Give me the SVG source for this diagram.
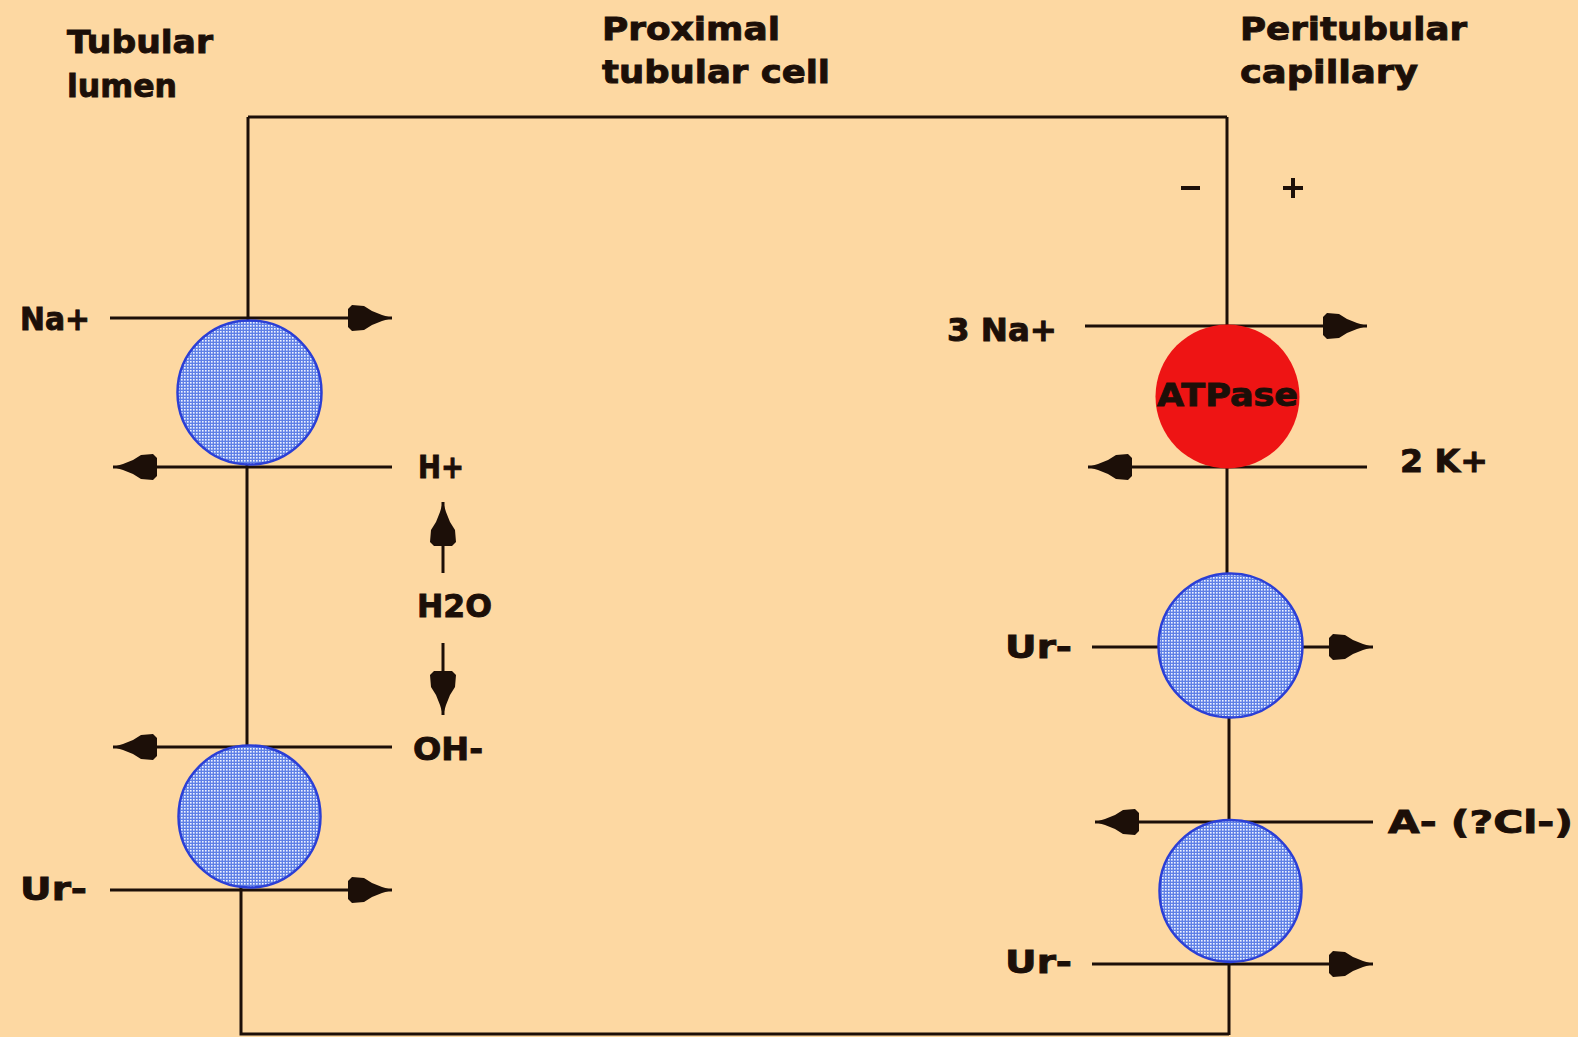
<svg xmlns="http://www.w3.org/2000/svg" width="1578" height="1037" viewBox="0 0 1578 1037">
  <style>
    .lbl { font-family: "DejaVu Sans", "Liberation Sans", sans-serif; font-weight: bold; font-size: 32px; fill: #1c0f08; stroke: #1c0f08; stroke-width: 0.9; }
    .mem { fill: none; stroke: #1c0f08; stroke-width: 3; }
    .flow { fill: none; stroke: #1c0f08; stroke-width: 3; marker-end: url(#dart); }
    .carrier { fill: url(#dots); stroke: #2b3fd6; stroke-width: 2.5; }
    .pump { fill: #ee1414; }
  </style>
  <defs>
    <!-- stippled fill for the carrier proteins -->
    <pattern id="dots" width="3" height="3" patternUnits="userSpaceOnUse">
      <rect width="3" height="3" fill="#5f80e6"/>
      <rect x="1" y="1" width="1.6" height="1.6" fill="#eef3ff"/>
    </pattern>
    <!-- blunt dart arrowhead -->
    <marker id="dart" viewBox="-46 -15 48 30" refX="0" refY="0" markerWidth="48" markerHeight="30" markerUnits="userSpaceOnUse" orient="auto">
      <path d="M0,0 L-10,-3 L-20,-7 L-28,-12 L-40,-13 L-44,-9 L-44,9 L-40,13 L-28,12 L-20,7 L-10,3 Z" fill="#1c0f08"/>
    </marker>
  </defs>

  <rect width="1578" height="1037" fill="#fdd8a2"/>

  <!-- column headings -->
  <g id="heading-lumen">
    <text class="lbl" x="67" y="53" textLength="146" lengthAdjust="spacingAndGlyphs">Tubular</text>
    <text class="lbl" x="67" y="97" textLength="110" lengthAdjust="spacingAndGlyphs">lumen</text>
  </g>
  <g id="heading-cell">
    <text class="lbl" x="602" y="40" textLength="178" lengthAdjust="spacingAndGlyphs">Proximal</text>
    <text class="lbl" x="602" y="83" textLength="228" lengthAdjust="spacingAndGlyphs">tubular cell</text>
  </g>
  <g id="heading-capillary">
    <text class="lbl" x="1240" y="40" textLength="227" lengthAdjust="spacingAndGlyphs">Peritubular</text>
    <text class="lbl" x="1240" y="83" textLength="178" lengthAdjust="spacingAndGlyphs">capillary</text>
  </g>

  <!-- cell outline: apical and basolateral membranes -->
  <g id="cell">
    <path class="mem" d="M248,117 H1227"/>
    <path class="mem" d="M248,117 V322"/>
    <path class="mem" d="M247,463 V748"/>
    <path class="mem" d="M241,886 V1034 H1229"/>
    <path class="mem" d="M1227,117 V328"/>
    <path class="mem" d="M1227,466 V575"/>
    <path class="mem" d="M1229,716 V822"/>
    <path class="mem" d="M1229,960 V1035"/>
  </g>

  <!-- membrane potential signs -->
  <g id="potential">
    <rect x="1181" y="186" width="19" height="4" fill="#1c0f08"/>
    <rect x="1283" y="186" width="20" height="4" fill="#1c0f08"/>
    <rect x="1291" y="178" width="4" height="20" fill="#1c0f08"/>
  </g>

  <!-- ion flows -->
  <g id="connectors">
    <path class="flow" d="M110,318 H392"/>
    <path class="flow" d="M392,467 H113"/>
    <path class="flow" d="M443,573 V502"/>
    <path class="flow" d="M443,643 V715"/>
    <path class="flow" d="M392,747 H113"/>
    <path class="flow" d="M110,890 H392"/>
    <path class="flow" d="M1085,326 H1367"/>
    <path class="flow" d="M1367,467 H1088"/>
    <path class="flow" d="M1092,647 H1373"/>
    <path class="flow" d="M1373,822 H1095"/>
    <path class="flow" d="M1092,964 H1373"/>
  </g>

  <!-- apical Na+/H+ exchanger -->
  <g id="na-h-exchanger">
    <circle class="carrier" cx="249.5" cy="392.5" r="72"/>
    <text class="lbl" x="20" y="330" textLength="70" lengthAdjust="spacingAndGlyphs">Na+</text>
    <text class="lbl" x="418" y="478" textLength="46" lengthAdjust="spacingAndGlyphs">H+</text>
  </g>

  <!-- water dissociation inside the cell -->
  <g id="water">
    <text class="lbl" x="417" y="617" textLength="75" lengthAdjust="spacingAndGlyphs">H2O</text>
  </g>

  <!-- apical urate/OH- exchanger -->
  <g id="urate-oh-exchanger">
    <circle class="carrier" cx="249.5" cy="816.5" r="71"/>
    <text class="lbl" x="413" y="760" textLength="70" lengthAdjust="spacingAndGlyphs">OH-</text>
    <text class="lbl" x="20" y="900" textLength="67" lengthAdjust="spacingAndGlyphs">Ur-</text>
  </g>

  <!-- basolateral Na/K pump -->
  <g id="na-k-atpase">
    <circle class="pump" cx="1227.5" cy="396.5" r="72"/>
    <text class="lbl" x="1157" y="406" textLength="141" lengthAdjust="spacingAndGlyphs">ATPase</text>
    <text class="lbl" x="947" y="341" textLength="110" lengthAdjust="spacingAndGlyphs">3 Na+</text>
    <text class="lbl" x="1400" y="472" textLength="88" lengthAdjust="spacingAndGlyphs">2 K+</text>
  </g>

  <!-- basolateral urate uniporter -->
  <g id="urate-uniporter">
    <circle class="carrier" cx="1230.5" cy="645.5" r="72"/>
    <text class="lbl" x="1005" y="658" textLength="67" lengthAdjust="spacingAndGlyphs">Ur-</text>
  </g>

  <!-- basolateral urate/anion exchanger -->
  <g id="urate-anion-exchanger">
    <circle class="carrier" cx="1230.5" cy="891" r="71"/>
    <text class="lbl" x="1388" y="833" textLength="185" lengthAdjust="spacingAndGlyphs">A- (?Cl-)</text>
    <text class="lbl" x="1005" y="973" textLength="67" lengthAdjust="spacingAndGlyphs">Ur-</text>
  </g>
</svg>
